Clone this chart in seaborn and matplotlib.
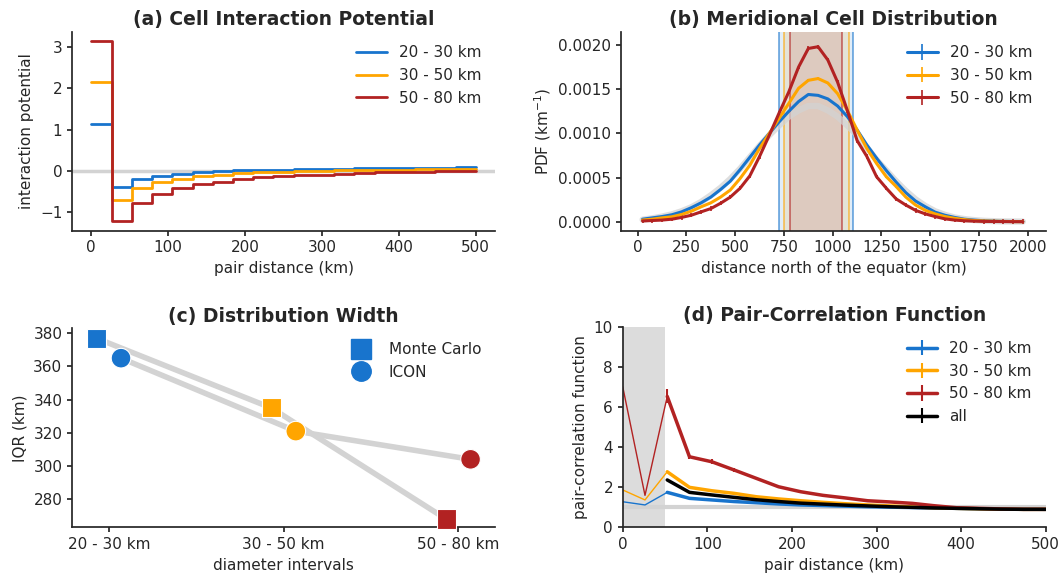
import numpy as np
import matplotlib
matplotlib.use('Agg')
import matplotlib.pyplot as plt
from matplotlib.lines import Line2D
from matplotlib.ticker import FormatStrFormatter
import seaborn as sns

# ---------------- data ----------------
diam_labels = ['20 - 30 km', '30 - 50 km', '50 - 80 km']
colors = ['#1874cd', '#ffa500', '#b22222']

# (a) interaction potential, step function over pair distance bins (edges)
pair_dist = [0, 26.3, 52.6, 78.9, 105.3, 131.6, 157.9, 184.2, 210.5, 236.8,
             263.2, 289.5, 315.8, 342.1, 368.4, 394.7, 421.1, 447.4, 473.7, 500]
pot_20_30 = [1.13, -0.38, -0.20, -0.12, -0.07, -0.03, -0.01, 0.01, 0.02, 0.03,
             0.04, 0.05, 0.05, 0.06, 0.07, 0.07, 0.08, 0.08, 0.09, 0.09]
pot_30_50 = [2.15, -0.70, -0.42, -0.28, -0.19, -0.13, -0.09, -0.06, -0.04, -0.02,
             -0.01, 0.00, 0.01, 0.02, 0.03, 0.03, 0.04, 0.04, 0.05, 0.05]
pot_50_80 = [3.15, -1.22, -0.78, -0.55, -0.42, -0.33, -0.26, -0.20, -0.16, -0.13,
             -0.11, -0.09, -0.07, -0.05, -0.04, -0.03, -0.02, -0.01, 0.00, 0.00]

# (b) meridional PDF (in 1e-4 per km)
north_km = [25, 75, 125, 175, 225, 275, 325, 375, 425, 475,
            525, 575, 625, 675, 725, 775, 825, 875, 925, 975,
            1025, 1075, 1125, 1175, 1225, 1275, 1325, 1375, 1425, 1475,
            1525, 1575, 1625, 1675, 1725, 1775, 1825, 1875, 1925, 1975]
pdf_20_30 = [0.3, 0.45, 0.6, 0.8, 1.13, 1.6, 2.15, 2.8, 3.66, 4.6,
             5.9, 7.3, 8.7, 10.0, 11.3, 12.5, 13.6, 14.4, 14.3, 13.9,
             13.1, 11.9, 10.4, 8.7, 7.2, 5.8, 4.5, 3.3, 2.35, 1.7,
             1.1, 0.75, 0.5, 0.3, 0.2, 0.12, 0.08, 0.05, 0.04, 0.03]
pdf_30_50 = [0.2, 0.3, 0.45, 0.57, 0.83, 1.2, 1.7, 2.15, 2.8, 3.6,
             4.9, 6.4, 8.3, 10.0, 11.7, 13.4, 15.1, 16.0, 16.2, 15.7,
             14.5, 12.6, 10.4, 8.3, 6.6, 5.1, 4.0, 2.8, 1.9, 1.3,
             0.9, 0.6, 0.4, 0.25, 0.15, 0.1, 0.07, 0.05, 0.03, 0.02]
pdf_50_80 = [0.1, 0.15, 0.2, 0.3, 0.5, 0.75, 1.13, 1.5, 2.1, 2.8,
             3.8, 5.2, 7.4, 9.8, 12.3, 14.7, 17.5, 19.6, 19.8, 18.3,
             15.8, 12.6, 9.2, 7.4, 5.1, 3.8, 2.6, 1.9, 1.3, 0.9,
             0.6, 0.34, 0.2, 0.12, 0.08, 0.05, 0.04, 0.03, 0.02, 0.02]
pdf_ref = [0.25, 0.4, 0.6, 0.85, 1.2, 1.65, 2.25, 3.0, 3.85, 4.85,
           6.0, 7.3, 8.6, 9.8, 10.9, 11.9, 12.6, 13.1, 13.1, 12.6,
           11.9, 10.9, 9.8, 8.4, 7.0, 5.8, 4.6, 3.5, 2.55, 1.8,
           1.2, 0.8, 0.5, 0.32, 0.2, 0.12, 0.08, 0.05, 0.04, 0.03]
pdf_err = [0.08, 0.12, 0.25]
iqr_lo = [726, 748, 780]
iqr_hi = [1103, 1083, 1047]

# (c) distribution width
iqr_mc = [377, 335, 268]
iqr_icon = [365, 321, 304]

# (d) pair-correlation function
pcf_20_30 = [1.28, 1.12, 1.75, 1.45, 1.37, 1.29, 1.23, 1.17, 1.12, 1.09,
             1.06, 1.03, 1.01, 0.99, 0.97, 0.95, 0.93, 0.92, 0.91, 0.90]
pcf_30_50 = [1.87, 1.37, 2.78, 2.00, 1.83, 1.70, 1.53, 1.42, 1.33, 1.25,
             1.18, 1.12, 1.07, 1.02, 0.98, 0.95, 0.93, 0.91, 0.90, 0.90]
pcf_50_80 = [7.03, 1.60, 6.55, 3.53, 3.28, 2.87, 2.45, 2.03, 1.78, 1.60,
             1.47, 1.33, 1.27, 1.20, 1.08, 0.98, 0.95, 0.92, 0.90, 0.90]
pcf_all = [np.nan, np.nan, 2.37, 1.75, 1.62, 1.50, 1.38, 1.29, 1.21, 1.16,
           1.11, 1.07, 1.03, 1.00, 0.97, 0.95, 0.93, 0.91, 0.90, 0.90]
pcf_err_50_80 = [0, 0, 0.35, 0.10, 0.12, 0.08, 0.05, 0.04, 0.03, 0.03,
                 0.02, 0.02, 0.02, 0.02, 0.02, 0.02, 0.02, 0.02, 0.02, 0.02]
pcf_err_small = 0.03

# ---------------- style ----------------
sns.set_theme(style='ticks')
plt.rcParams['font.family'] = ['DejaVu Sans']
plt.rcParams.update({
    'xtick.labelsize': 11, 'ytick.labelsize': 11, 'axes.labelsize': 11,
    'legend.fontsize': 11, 'xtick.major.size': 3.5, 'ytick.major.size': 3.5,
})

fig = plt.figure(figsize=(10.6, 5.76), dpi=100)
ax_a = fig.add_axes([0.068, 0.5995, 0.399, 0.3455])
ax_b = fig.add_axes([0.5858, 0.5995, 0.401, 0.3455])
ax_c = fig.add_axes([0.068, 0.0845, 0.399, 0.3455])
ax_d = fig.add_axes([0.5875, 0.0845, 0.399, 0.347])

title_kw = dict(fontweight='bold', fontsize=13.5, pad=4.5)

# ----------- (a) -----------
ax = ax_a
ax.axhline(0, color='lightgray', lw=2.5, zorder=0)
for vals, c, lab in zip([pot_20_30, pot_30_50, pot_50_80], colors, diam_labels):
    sns.lineplot(x=pair_dist, y=vals, color=c, lw=2, drawstyle='steps-post',
                 label=lab, ax=ax)
ax.set_xlim(-25, 525)
ax.set_ylim(-1.45, 3.37)
ax.set_yticks([-1, 0, 1, 2, 3])
ax.set_xlabel('pair distance (km)')
ax.set_ylabel('interaction potential')
ax.set_title('(a) Cell Interaction Potential', **title_kw)
ax.legend(frameon=False, loc='upper right')

# ----------- (b) -----------
ax = ax_b
sns.lineplot(x=north_km, y=np.array(pdf_ref) * 1e-4, color='lightgray', lw=4.5,
             alpha=0.75, ax=ax, zorder=1)
for lo, hi, c in zip(iqr_lo, iqr_hi, colors):
    ax.axvspan(lo, hi, color=c, alpha=0.13, lw=0, zorder=0)
    ax.axvline(lo, color=c, lw=1.3, alpha=0.6, zorder=0.5)
    ax.axvline(hi, color=c, lw=1.3, alpha=0.6, zorder=0.5)
for vals, err, c, lab in zip([pdf_20_30, pdf_30_50, pdf_50_80], pdf_err, colors, diam_labels):
    ax.errorbar(north_km, np.array(vals) * 1e-4, yerr=err * 1e-4, color=c,
                lw=2.2, elinewidth=1.2, label=lab, zorder=2)
ax.set_xlim(-86, 2094)
ax.set_ylim(-0.0001, 0.00215)
ax.set_xticks([0, 250, 500, 750, 1000, 1250, 1500, 1750, 2000])
ax.set_yticks([0, 0.0005, 0.001, 0.0015, 0.002])
ax.yaxis.set_major_formatter(FormatStrFormatter('%.4f'))
ax.set_xlabel('distance north of the equator (km)')
ax.set_ylabel('PDF (km$^{-1}$)')
ax.set_title('(b) Meridional Cell Distribution', **title_kw)
ax.legend(frameon=False, loc='upper right')

# ----------- (c) -----------
ax = ax_c
pos = np.arange(len(diam_labels))
sns.lineplot(x=pos - 0.07, y=iqr_mc, color='lightgray', lw=4, ax=ax, zorder=1)
sns.lineplot(x=pos + 0.07, y=iqr_icon, color='lightgray', lw=4, ax=ax, zorder=1)
sns.scatterplot(x=pos - 0.07, y=iqr_mc, hue=diam_labels, palette=colors,
                marker='s', s=190, edgecolor='white', linewidth=0.8,
                legend=False, ax=ax, zorder=3, clip_on=False)
sns.scatterplot(x=pos + 0.07, y=iqr_icon, hue=diam_labels, palette=colors,
                marker='o', s=200, edgecolor='white', linewidth=0.8,
                legend=False, ax=ax, zorder=3, clip_on=False)
ax.set_xticks(pos)
ax.set_xticklabels(diam_labels)
ax.set_xlim(-0.21, 2.21)
ax.set_ylim(263, 383)
ax.set_yticks([280, 300, 320, 340, 360, 380])
ax.set_xlabel('diameter intervals')
ax.set_ylabel('IQR (km)')
ax.set_title('(c) Distribution Width', **title_kw)
handles = [Line2D([], [], marker='s', ls='', color=colors[0], markersize=14),
           Line2D([], [], marker='o', ls='', color=colors[0], markersize=14)]
ax.legend(handles, ['Monte Carlo', 'ICON'], frameon=False, loc='upper right')

# ----------- (d) -----------
ax = ax_d
ax.axvspan(0, 50, color='gainsboro', lw=0, zorder=0)
ax.axhline(1, color='lightgray', lw=3, zorder=0.5)
pcf_sets = [pcf_20_30, pcf_30_50, pcf_50_80, pcf_all]
pcf_cols = colors + ['black']
pcf_labs = diam_labels + ['all']
pcf_errs = [pcf_err_small, pcf_err_small, np.array(pcf_err_50_80), pcf_err_small]
for vals, err, c, lab in zip(pcf_sets, pcf_errs, pcf_cols, pcf_labs):
    v = np.array(vals, dtype=float)
    x = np.array(pair_dist)
    if not np.isnan(v[0]):
        sns.lineplot(x=x[:3], y=v[:3], color=c, lw=1, ax=ax, zorder=1)
    e = err[2:] if np.ndim(err) else err
    ax.errorbar(x[2:], v[2:], yerr=e, color=c, lw=2.5, elinewidth=1.5,
                label=lab, zorder=2)
ax.set_xlim(0, 500)
ax.set_ylim(0, 10)
ax.set_yticks([0, 2, 4, 6, 8, 10])
ax.set_xlabel('pair distance (km)')
ax.set_ylabel('pair-correlation function')
ax.set_title('(d) Pair-Correlation Function', **title_kw)
ax.legend(frameon=False, loc='upper right')

for a in [ax_a, ax_b, ax_c, ax_d]:
    sns.despine(ax=a)

fig.savefig('out.png', dpi=100)
